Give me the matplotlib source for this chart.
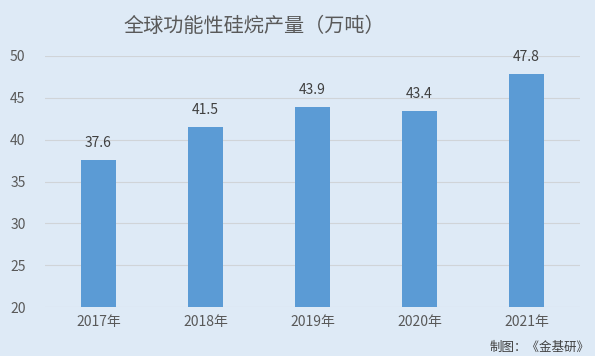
import matplotlib.pyplot as plt

plt.rcParams['font.family'] = ['Noto Sans CJK SC', 'DejaVu Sans']

years = ['2017年', '2018年', '2019年', '2020年', '2021年']
output = [37.6, 41.5, 43.9, 43.4, 47.8]

bg = '#DEEAF6'
fig = plt.figure(figsize=(5.95, 3.56), dpi=100, facecolor=bg)
ax = fig.add_axes([0.0756, 0.1376, 0.899, 0.7051], facecolor=bg)

x = range(len(years))
ax.bar(x, output, width=0.32, color='#5B9BD5', zorder=3)
for xi, v in zip(x, output):
    ax.text(xi, v + 1.2, f'{v}', ha='center', va='bottom', fontsize=10, color='#404040')

ax.set_xlim(-0.5, len(years) - 0.5)
ax.set_ylim(20, 50)
ax.set_yticks(range(20, 51, 5))
ax.set_xticks(list(x))
ax.set_xticklabels(years)
ax.grid(axis='y', color='#D0D4D8', linewidth=0.8, zorder=0)
for s in ax.spines.values():
    s.set_visible(False)
ax.tick_params(length=0, labelsize=10, colors='#595959', pad=6)
ax.tick_params(axis='y', pad=14)

fig.text(0.427, 0.925, '全球功能性硅烷产量（万吨）', ha='center', va='center',
         fontsize=14.5, color='#595959')
fig.text(0.99, 0.025, '制图：《金基研》', ha='right', va='center',
         fontsize=9, color='#404040')

fig.savefig('out.png', dpi=100, facecolor=bg)
